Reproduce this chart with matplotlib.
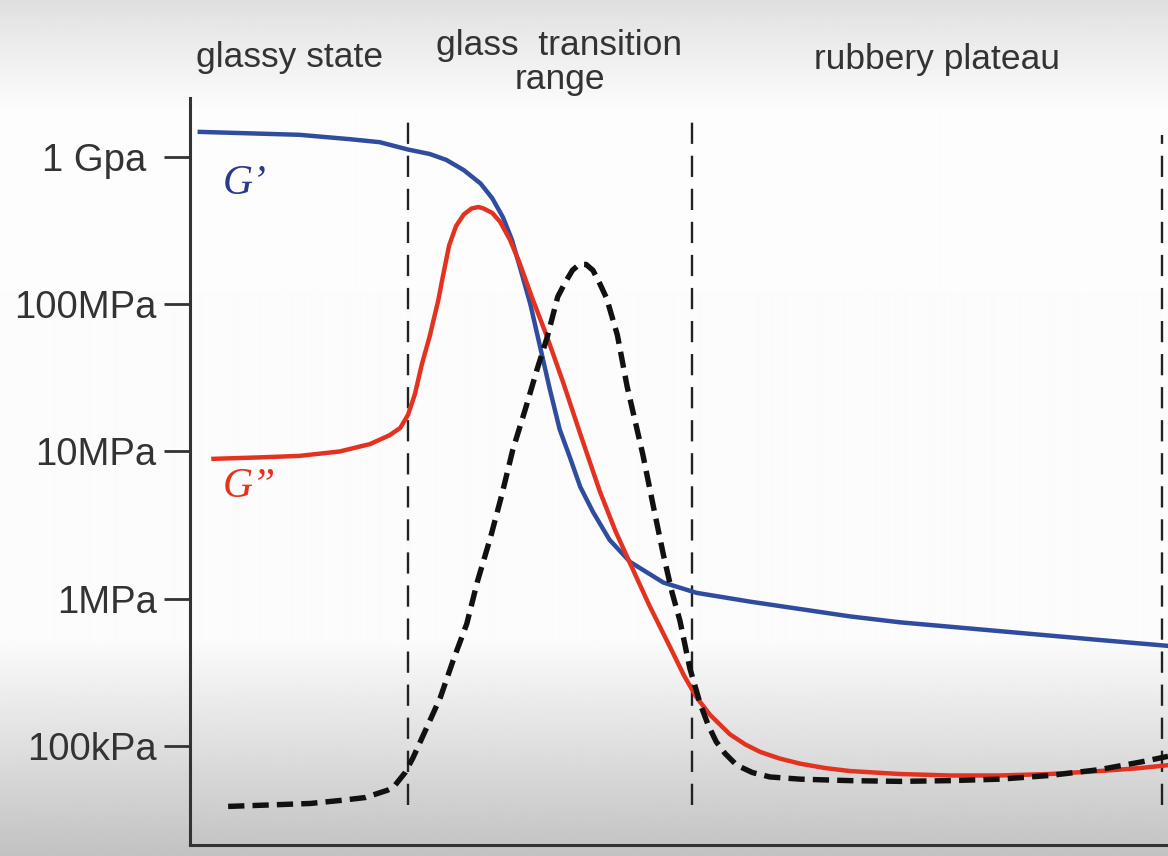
import numpy as np
import matplotlib
matplotlib.use("Agg")
from matplotlib import pyplot as plt
from matplotlib.ticker import NullLocator

# temperature axis in arbitrary units (0..100), moduli as log10(Pa)
# G' storage modulus
gp_x = [1.0, 6.1, 11.2, 16.4, 19.4, 22.3, 24.5, 26.2, 28.0, 29.7, 30.9, 32.0,
        32.9, 33.7, 34.8, 35.8, 36.8, 37.8, 38.9, 39.9, 41.2, 42.9, 45.0, 48.4,
        51.8, 57.3, 62.4, 67.5, 72.6, 77.7, 82.8, 87.9, 93.0, 100.0]
gp_y = [9.17, 9.16, 9.15, 9.12, 9.10, 9.05, 9.02, 8.98, 8.91, 8.82, 8.72, 8.59,
        8.44, 8.26, 8.00, 7.71, 7.42, 7.15, 6.95, 6.76, 6.59, 6.40, 6.25, 6.11,
        6.04, 5.98, 5.93, 5.88, 5.84, 5.81, 5.78, 5.75, 5.72, 5.68]

# G'' loss modulus
gpp_x = [2.4, 7.2, 11.2, 15.3, 18.4, 20.4, 21.5, 22.3, 23.0, 23.7, 24.5, 25.4,
         25.8, 26.5, 27.2, 28.0, 28.8, 29.5, 30.0, 30.9, 31.7, 32.7, 33.7, 35.0,
         36.5, 38.2, 39.9, 41.9, 43.5, 45.0, 47.0, 49.1, 50.5, 51.8, 53.2, 55.2,
         56.8, 58.3, 60.3, 62.4, 65.0, 67.5, 72.6, 77.7, 82.8, 87.9, 93.0, 97.1,
         100.0]
gpp_y = [6.95, 6.96, 6.97, 7.00, 7.05, 7.11, 7.16, 7.25, 7.39, 7.59, 7.78, 8.03,
         8.17, 8.40, 8.53, 8.61, 8.65, 8.66, 8.65, 8.62, 8.56, 8.44, 8.28, 8.04,
         7.78, 7.46, 7.12, 6.73, 6.46, 6.24, 5.95, 5.67, 5.48, 5.33, 5.21, 5.08,
         5.01, 4.96, 4.915, 4.88, 4.85, 4.83, 4.81, 4.80, 4.80, 4.81, 4.83, 4.85,
         4.87]

# tan delta (dashed)
tan_x = [3.9, 8.2, 12.3, 15.3, 17.9, 20.2, 20.8, 22.0, 22.8, 24.1, 25.6, 26.9,
         28.3, 29.4, 30.7, 31.9, 33.0, 34.3, 35.5, 36.5, 37.6, 38.3, 39.1, 39.8,
         40.5, 41.2, 41.9, 42.6, 43.7, 44.7, 45.5, 46.3, 47.4, 48.4, 49.3, 50.1,
         51.1, 52.2, 53.0, 53.8, 54.7, 55.9, 57.5, 59.3, 62.4, 67.5, 72.6, 77.7,
         82.8, 87.9, 93.0, 97.1, 100.0]
tan_y = [4.59, 4.60, 4.61, 4.63, 4.65, 4.70, 4.72, 4.82, 4.92, 5.11, 5.33, 5.58,
         5.83, 6.12, 6.41, 6.71, 7.01, 7.29, 7.56, 7.77, 8.05, 8.14, 8.23, 8.27,
         8.27, 8.23, 8.14, 8.04, 7.79, 7.44, 7.21, 6.98, 6.62, 6.30, 6.04, 5.85,
         5.53, 5.28, 5.14, 5.03, 4.95, 4.87, 4.82, 4.79, 4.775, 4.765, 4.76, 4.765,
         4.775, 4.80, 4.84, 4.89, 4.93]

regions = ["glassy state", "glass  transition\nrange", "rubbery plateau"]
region_x = [0.248, 0.479, 0.802]
region_y = [0.933, 0.927, 0.931]
borders = [22.3, 51.3, 99.4]
yticks = [1e9, 1e8, 1e7, 1e6, 1e5]
ylabels = ["1 Gpa ", "100MPa", "10MPa", "1MPa", "100kPa"]

plt.rcParams["font.family"] = ["Liberation Sans", "DejaVu Sans"]
fig = plt.figure(figsize=(11.68, 8.56), dpi=100)

# soft grey gradient behind everything, like the screenshot
rows = np.arange(856)
shade = np.interp(rows, [0, 20, 110, 640, 856], [0.87, 0.9, 0.99, 0.985, 0.76])
bg = fig.add_axes([0, 0, 1, 1], zorder=0)
bg.imshow(np.tile(shade[:, None], (1, 4)), aspect="auto", cmap="gray",
          vmin=0, vmax=1, extent=[0, 1, 0, 1])
bg.axis("off")

ax = fig.add_axes([190/1168, 11/856, 978/1168, 747/856], zorder=1)
ax.patch.set_alpha(0)
ax.set_yscale("log")
ax.set_xlim(0, 100)
ax.set_ylim(10**4.328, 10**9.40)

ax.vlines(borders, 10**4.60, [10**9.24, 10**9.24, 10**9.15], colors="#222222",
          lw=1.7, linestyles=(0, (9, 5)))
ax.plot(gp_x, 10**np.array(gp_y), color="#2f4c9e", lw=3.2)
ax.plot(gpp_x, 10**np.array(gpp_y), color="#e3321f", lw=3.2)
ax.plot(tan_x, 10**np.array(tan_y), color="#111111", lw=3.9,
        linestyle=(0, (3, 1.5)))

ax.text(3.3, 10**8.82, "G’", color="#2b3a86", fontsize=30, style="italic",
        family="Liberation Serif", va="center")
ax.text(3.3, 10**6.76, "G”", color="#e3321f", fontsize=30, style="italic",
        family="Liberation Serif", va="center")

for name, xf, yf in zip(regions, region_x, region_y):
    fig.text(xf, yf, name, ha="center", va="center", fontsize=25.5,
             color="#333333", linespacing=1.05)

ax.spines["top"].set_visible(False)
ax.spines["right"].set_visible(False)
for s in ["left", "bottom"]:
    ax.spines[s].set_linewidth(2.2)
    ax.spines[s].set_color("#333333")
ax.set_xticks([])
ax.yaxis.set_minor_locator(NullLocator())
ax.set_yticks(yticks, labels=ylabels)
ax.tick_params(axis="y", length=19, width=2, color="#333333", pad=5,
               labelsize=27.5, labelcolor="#333333")

fig.savefig("out.png", dpi=100)
